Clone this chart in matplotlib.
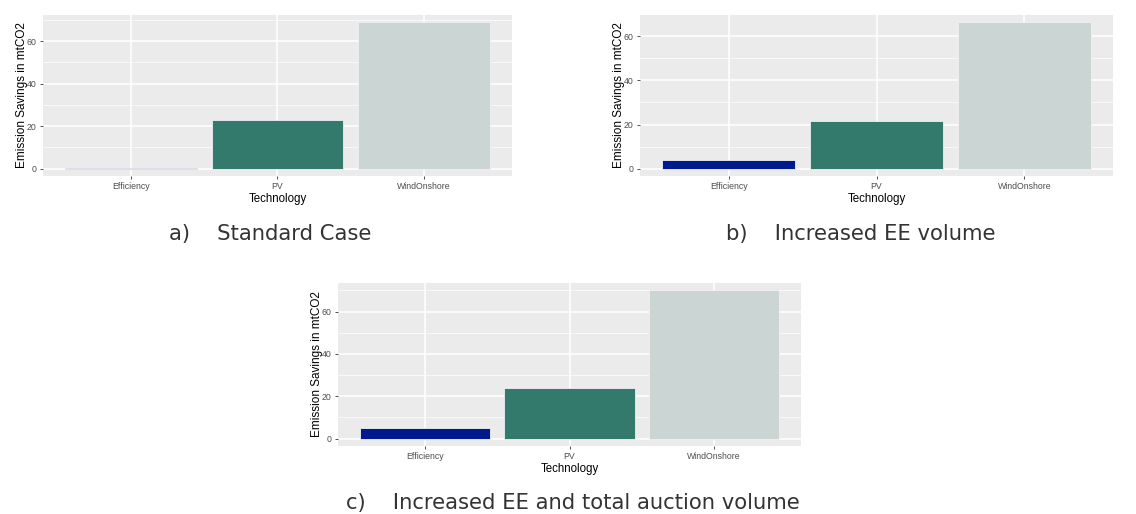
import matplotlib.pyplot as plt
from matplotlib.ticker import MultipleLocator

# values (mtCO2)
categories = ["Efficiency", "PV", "WindOnshore"]
standard_case = [0.1, 23.0, 68.8]
ee_volume = [4.0, 21.5, 66.3]
ee_auction_volume = [4.8, 23.8, 70.0]
captions = ["a)    Standard Case",
            "b)    Increased EE volume",
            "c)    Increased EE and total auction volume"]

bar_colors = ["#001a8c", "#33796c", "#cbd5d4"]

W, H = 1136, 514
fig = plt.figure(figsize=(W / 100, H / 100), dpi=100)


def px_rect(x0, y0, x1, y1):
    return [x0 / W, 1 - y1 / H, (x1 - x0) / W, (y1 - y0) / H]


def gg_panel(rect, values):
    ax = fig.add_axes(rect)
    ax.set_facecolor("#ebebeb")
    x = range(1, len(categories) + 1)
    ax.bar(x, values, width=0.9, color=bar_colors, edgecolor="#f0f0f5",
           linewidth=0.6, zorder=3)
    top = max(values)
    ax.set_xlim(0.4, len(categories) + 0.6)
    ax.set_ylim(-0.05 * top, top * 1.05)
    ax.set_xticks(list(x))
    ax.set_xticklabels(categories, family="Liberation Sans")
    ax.yaxis.set_major_locator(MultipleLocator(20))
    ax.yaxis.set_minor_locator(MultipleLocator(10))
    ax.grid(which="major", color="white", linewidth=1.1, zorder=0)
    ax.grid(which="minor", axis="y", color="white", linewidth=0.5, zorder=0)
    ax.set_axisbelow(True)
    for s in ax.spines.values():
        s.set_visible(False)
    ax.tick_params(which="major", length=2.5, width=0.6, color="#333333",
                   labelsize=6.3, labelcolor="#4d4d4d", pad=2)
    ax.tick_params(which="minor", length=0)
    for lab in ax.get_yticklabels():
        lab.set_family("Liberation Sans")
    ax.set_xlabel("Technology", fontsize=8.3, color="black", labelpad=1,
                  family="Liberation Sans")
    ax.set_ylabel("Emission Savings in mtCO2", fontsize=8.5, color="black",
                  family="Liberation Sans", va="center")
    ax.yaxis.set_label_coords(-21 / (rect[2] * W), 0.5)
    return ax


gg_panel(px_rect(43, 15, 512, 176), standard_case)
gg_panel(px_rect(640, 15, 1113, 176), ee_volume)
gg_panel(px_rect(338, 283, 801, 446), ee_auction_volume)

cap_kw = dict(fontsize=15.2, color="#333333", family="DejaVu Sans",
              ha="center", va="center")
fig.text(270 / W, 1 - 234 / H, captions[0], **cap_kw)
fig.text(861 / W, 1 - 234 / H, captions[1], **cap_kw)
fig.text(573 / W, 1 - 503 / H, captions[2], **cap_kw)

fig.savefig("out.png", dpi=100)
